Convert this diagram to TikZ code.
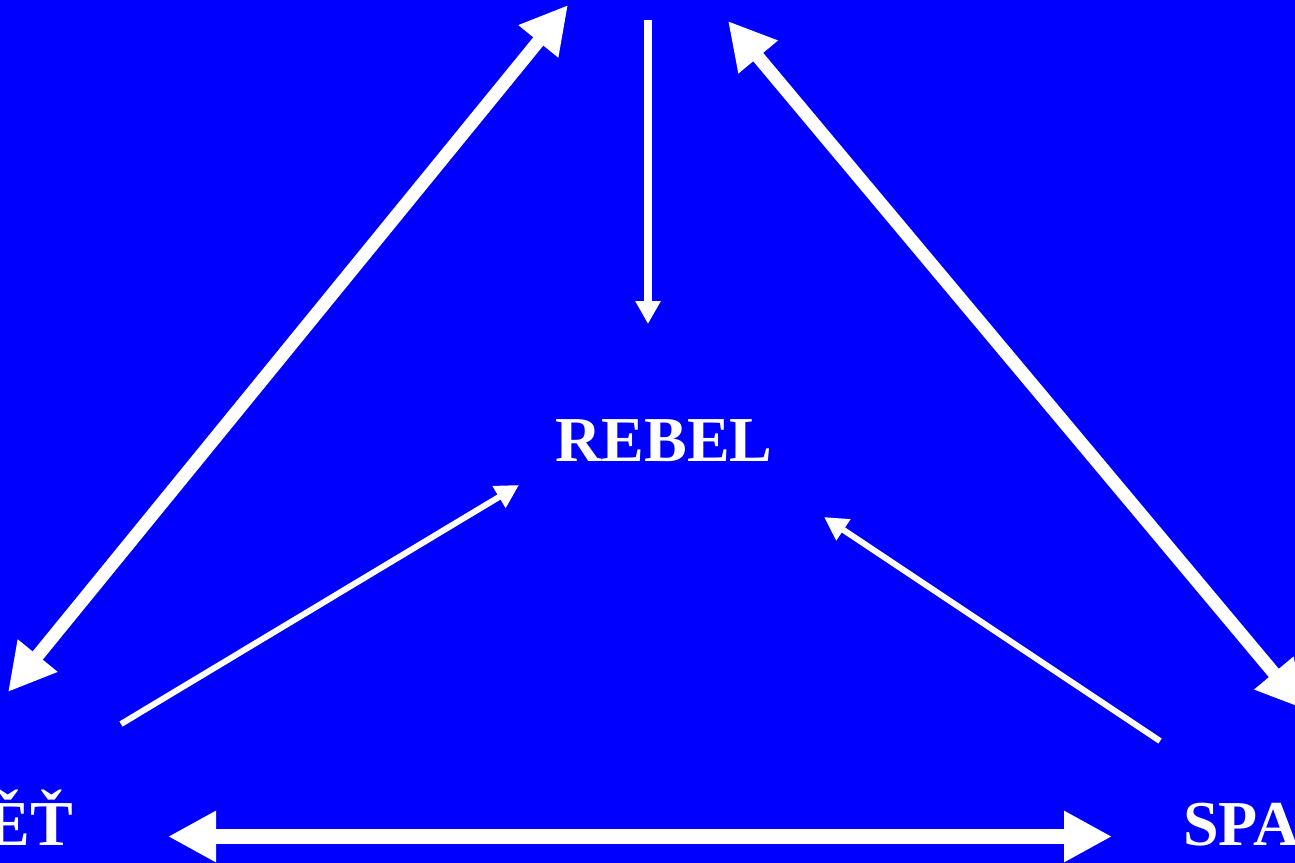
\documentclass[tikz,border=0pt]{standalone}
\usepackage{fontspec}
\setmainfont{Liberation Serif}[BoldFont={Liberation Serif Bold}]
\newfontfamily\lblfont{Liberation Serif Bold}
\usetikzlibrary{arrows.meta}
\definecolor{bgblue}{RGB}{0,0,255}
\tikzset{
  lbl/.style={text=white,inner sep=0pt,
              font=\lblfont\fontsize{48}{56}\selectfont},
  sidearr/.style={draw=white,line width=9.75pt,{Triangle[length=35.25pt,width=36pt]}-{Triangle[length=35.25pt,width=36pt]}},
  basearr/.style={draw=white,line width=11.25pt,{Triangle[length=36pt,width=36pt]}-{Triangle[length=36pt,width=36pt]}},
  downarr/.style={draw=white,line width=6pt,-{Triangle[length=17.25pt,width=18pt]}},
  innerarr/.style={draw=white,line width=4.5pt,-{Triangle[length=17.5pt,width=18pt]}}}

\begin{document}
\begin{tikzpicture}[x=0.75pt,y=-0.75pt]
  \fill[bgblue] (0,0) rectangle (1295,863);
  \useasboundingbox (0,0) rectangle (1295,863);
  % labels
  \node[lbl,anchor=base] (rebel) at (664,461) {REBEL};
  \node[lbl,anchor=base east] (svet) at (73,845) {ĚŤ};
  \node[lbl,anchor=base west] (spa) at (1183,845) {SPA};
  % arrow ends
  \coordinate (lt1) at (8,692);    \coordinate (lt2) at (568,5);
  \coordinate (rt1) at (728,21);   \coordinate (rt2) at (1304,709);
  \coordinate (vt1) at (648,20);   \coordinate (vt2) at (648,324);
  \coordinate (il1) at (121,724);  \coordinate (il2) at (519,485);
  \coordinate (ir1) at (1160,741); \coordinate (ir2) at (824,517);
  \coordinate (b1) at (168,836.5); \coordinate (b2) at (1112,836.5);
  % arrows
  \draw[sidearr] (lt1) -- (lt2);
  \draw[sidearr] (rt1) -- (rt2);
  \draw[downarr] (vt1) -- (vt2);
  \draw[innerarr] (il1) -- (il2);
  \draw[innerarr] (ir1) -- (ir2);
  \draw[basearr] (b1) -- (b2);
\end{tikzpicture}
\end{document}
